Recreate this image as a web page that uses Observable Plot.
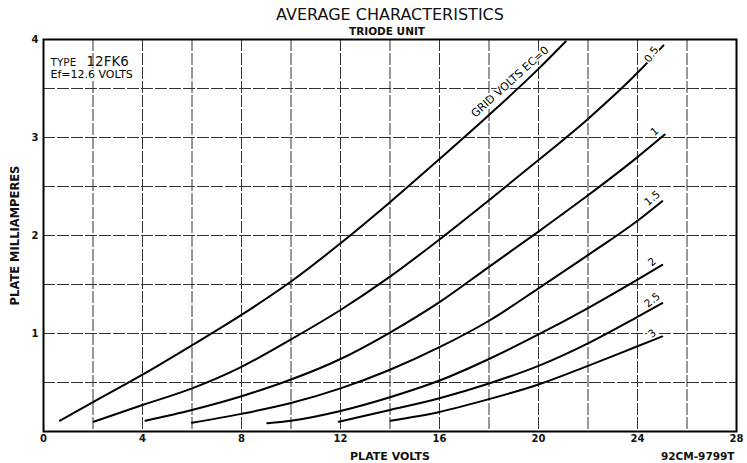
<!DOCTYPE html>
<html><head><meta charset="utf-8">
<script src="https://cdn.jsdelivr.net/npm/d3@7"></script>
<script src="https://cdn.jsdelivr.net/npm/@observablehq/plot@0.6"></script>
<style>body{margin:0;background:#fff}</style>
</head><body><div id="chart"></div>
<script>
// ---- data ----
const xTicks = [0, 4, 8, 12, 16, 20, 24, 28];
const yTicks = [1, 2, 3, 4];
const gridVoltLines = [2, 4, 6, 8, 10, 12, 14, 16, 18, 20, 22, 24, 26];
const gridMaLines = [0.5, 1, 1.5, 2, 2.5, 3, 3.5];

const gridVolts = ["0", "0.5", "1", "1.5", "2", "2.5", "3"];
const curveLabels = ["GRID VOLTS EC=0", "0.5", "1", "1.5", "2", "2.5", "3"];

const ec0Volts  = [0.66, 2, 4, 6, 8, 10, 12, 14, 16, 18, 20, 21.1];
const ec0Ma     = [0.11, 0.30, 0.58, 0.88, 1.19, 1.53, 1.92, 2.34, 2.78, 3.23, 3.70, 3.98];
const ec05Volts = [2.03, 4, 6, 8, 10, 12, 14, 16, 18, 20, 22, 24, 25.05];
const ec05Ma    = [0.10, 0.27, 0.44, 0.66, 0.94, 1.24, 1.58, 1.96, 2.36, 2.77, 3.19, 3.66, 3.94];
const ec1Volts  = [4.12, 6, 8, 10, 12, 14, 16, 18, 20, 22, 24, 25.1];
const ec1Ma     = [0.11, 0.22, 0.36, 0.53, 0.74, 1.01, 1.32, 1.68, 2.04, 2.41, 2.80, 3.03];
const ec15Volts = [6.0, 8, 10, 12, 14, 16, 18, 20, 22, 24, 25.0];
const ec15Ma    = [0.09, 0.18, 0.29, 0.44, 0.63, 0.86, 1.13, 1.46, 1.80, 2.15, 2.35];
const ec2Volts  = [9.04, 10, 12, 14, 16, 18, 20, 22, 24, 25.0];
const ec2Ma     = [0.085, 0.11, 0.21, 0.35, 0.52, 0.74, 0.99, 1.26, 1.55, 1.70];
const ec25Volts = [11.93, 14, 16, 18, 20, 22, 24, 25.0];
const ec25Ma    = [0.10, 0.22, 0.34, 0.49, 0.67, 0.90, 1.17, 1.31];
const ec3Volts  = [14.02, 16, 18, 20, 22, 24, 25.0];
const ec3Ma     = [0.11, 0.20, 0.33, 0.48, 0.67, 0.87, 0.97];

// ---- build table ----
const seriesVolts = [ec0Volts, ec05Volts, ec1Volts, ec15Volts, ec2Volts, ec25Volts, ec3Volts];
const seriesMa = [ec0Ma, ec05Ma, ec1Ma, ec15Ma, ec2Ma, ec25Ma, ec3Ma];
const points = [];
gridVolts.forEach((g, k) => seriesVolts[k].forEach((v, j) => points.push({grid: g, volts: v, ma: seriesMa[k][j]})));
const ends = gridVolts.map((g, k) => ({grid: g, label: curveLabels[k],
  volts: seriesVolts[k][seriesVolts[k].length - 1], ma: seriesMa[k][seriesMa[k].length - 1]}));
// anchor for the Ec=0 label: the 18 V point of that curve
const ec0Anchor = [{label: curveLabels[0], volts: ec0Volts[9], ma: ec0Ma[9]}];

const FONT = "DejaVu Sans";
const halo = {stroke: "#fff", strokeWidth: 3, fill: "#000"};
const chart = Plot.plot({
  width: 747, height: 463,
  marginLeft: 43, marginRight: 11, marginTop: 39, marginBottom: 32,
  style: {fontFamily: FONT, background: "#fff", color: "#111"},
  x: {domain: [0, 28]},
  y: {domain: [0, 4]},
  marks: [
    Plot.ruleX(gridVoltLines, {stroke: "#333", strokeWidth: 1, strokeDasharray: "12,2"}),
    Plot.ruleY(gridMaLines, {stroke: "#333", strokeWidth: 1, strokeDasharray: "12,2"}),
    Plot.frame({stroke: "#000", strokeWidth: 2}),
    Plot.axisX({ticks: xTicks, tickSize: 0, tickPadding: 3, label: null, fontSize: 10, fontWeight: "bold",
      tickFormat: d3.format("d")}),
    Plot.axisY({ticks: yTicks, tickSize: 0, tickPadding: 5, label: null, fontSize: 10, fontWeight: "bold",
      tickFormat: d3.format("d")}),
    Plot.line(points, {x: "volts", y: "ma", z: "grid", curve: "monotone-x", stroke: "#000", strokeWidth: 2}),
    Plot.text(ec0Anchor, {x: "volts", y: "ma", text: "label", rotate: -42, dx: 21, dy: -33,
      fontSize: 11, ...halo}),
    Plot.text(ends.filter(d => d.grid === "0.5"), {x: "volts", y: "ma", text: "label", rotate: -55,
      dx: -12, dy: 9, fontSize: 10.5, ...halo}),
    Plot.text(ends.filter(d => d.grid !== "0" && d.grid !== "0.5"), {x: "volts", y: "ma", text: "label",
      rotate: -40, dx: -10, dy: -3, fontSize: 10.5, ...halo}),
    Plot.text(["AVERAGE CHARACTERISTICS"], {frameAnchor: "top", dy: -25, lineAnchor: "middle",
      fontSize: 16}),
    Plot.text(["TRIODE UNIT"], {frameAnchor: "top", dy: -8, dx: -3, lineAnchor: "middle",
      fontSize: 10.5, fontWeight: "bold"}),
    Plot.text(["TYPE"], {frameAnchor: "top-left", dx: 7, dy: 23, lineAnchor: "middle", textAnchor: "start",
      fontSize: 10.5}),
    Plot.text(["12FK6"], {frameAnchor: "top-left", dx: 43, dy: 22, lineAnchor: "middle", textAnchor: "start",
      fontSize: 13.5}),
    Plot.text(["Ef=12.6 VOLTS"], {frameAnchor: "top-left", dx: 7, dy: 35, lineAnchor: "middle", textAnchor: "start",
      fontSize: 11, ...halo, ariaLabel: "heater"}),
    Plot.text(["PLATE MILLIAMPERES"], {frameAnchor: "left", dx: -28, rotate: -90, lineAnchor: "middle",
      textAnchor: "middle", fontSize: 11.5, fontWeight: "bold"}),
    Plot.text(["PLATE VOLTS"], {frameAnchor: "bottom", dy: 25, lineAnchor: "middle",
      fontSize: 11, fontWeight: "bold"}),
    Plot.text(["92CM-9799T"], {frameAnchor: "bottom-right", dy: 25, dx: -2, lineAnchor: "middle", textAnchor: "end",
      fontSize: 10.5, fontWeight: "bold"})
  ]
});
const svg = d3.select(chart);
// subscript f in "Ef"
svg.selectAll('g[aria-label="heater"] text').each(function() {
  const t = d3.select(this); const s = t.text();
  t.text(null);
  t.append("tspan").text(s[0]);
  t.append("tspan").attr("font-size", 7.5).attr("dy", 2).text(s[1]);
  t.append("tspan").attr("dy", -2).text(s.slice(2));
});
document.getElementById("chart").appendChild(chart);
</script>
</body></html>
